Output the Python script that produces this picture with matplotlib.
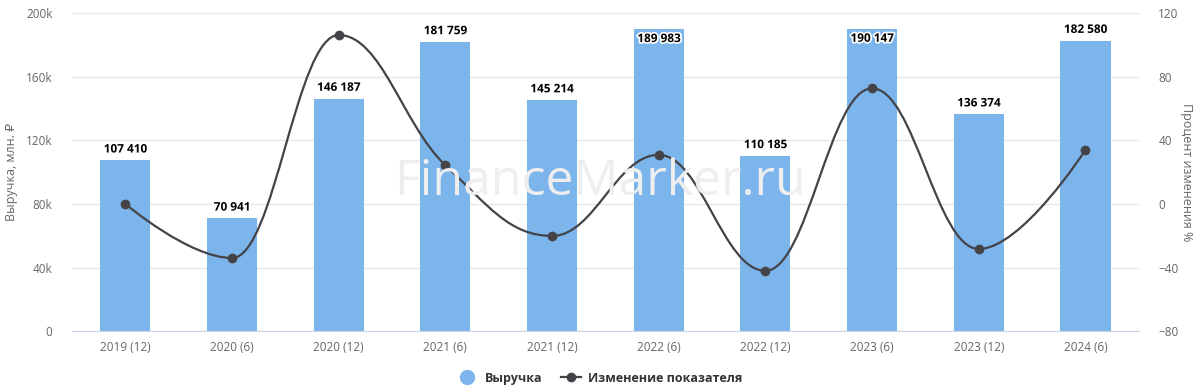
import numpy as np
import matplotlib.pyplot as plt
from matplotlib.lines import Line2D
from matplotlib.path import Path
from matplotlib.patches import PathPatch
import matplotlib.patheffects as pe

plt.rcParams['font.family'] = ['Open Sans', 'DejaVu Sans']

periods = ["2019 (12)", "2020 (6)", "2020 (12)", "2021 (6)", "2021 (12)",
           "2022 (6)", "2022 (12)", "2023 (6)", "2023 (12)", "2024 (6)"]
revenue = [107410, 70941, 146187, 181759, 145214, 189983, 110185, 190147, 136374, 182580]
change_pct = [0, -34.0, 106.1, 24.3, -20.1, 30.8, -42.0, 72.6, -28.3, 33.9]

left_ticks = [0, 40000, 80000, 120000, 160000, 200000]
left_labels = ["0", "40k", "80k", "120k", "160k", "200k"]
right_ticks = [-80, -40, 0, 40, 80, 120]

bar_color = "#7cb5ec"
line_color = "#434348"
grid_color = "#e6e6e6"
tick_color = "#666666"


def fmt(v):
    return f"{v:,}".replace(",", " ")


def spline_path(xs, ys, smoothing=1.5):
    # Highcharts-style spline through points
    n = len(xs)
    verts = [(xs[0], ys[0])]
    codes = [Path.MOVETO]
    conts = []
    for i in range(n):
        if i == 0 or i == n - 1:
            conts.append(((xs[i], ys[i]), (xs[i], ys[i])))
            continue
        lx, ly = xs[i - 1], ys[i - 1]
        nx, ny = xs[i + 1], ys[i + 1]
        px, py = xs[i], ys[i]
        d = smoothing + 1
        lcx = (smoothing * px + lx) / d
        lcy = (smoothing * py + ly) / d
        rcx = (smoothing * px + nx) / d
        rcy = (smoothing * py + ny) / d
        corr = (rcy - lcy) * (rcx - px) / (rcx - lcx) + py - rcy
        lcy += corr
        rcy += corr
        if lcy > ly and lcy > py:
            lcy = max(ly, py)
            rcy = 2 * py - lcy
        elif lcy < ly and lcy < py:
            lcy = min(ly, py)
            rcy = 2 * py - lcy
        if rcy > ny and rcy > py:
            rcy = max(ny, py)
            lcy = 2 * py - rcy
        elif rcy < ny and rcy < py:
            rcy = min(ny, py)
            lcy = 2 * py - rcy
        conts.append(((lcx, lcy), (rcx, rcy)))
    for i in range(1, n):
        verts += [conts[i - 1][1], conts[i][0], (xs[i], ys[i])]
        codes += [Path.CURVE4] * 3
    return Path(verts, codes)


fig = plt.figure(figsize=(12, 3.92), dpi=100)
ax = fig.add_axes([0.06, 0.155, 0.889, 0.812])
ax2 = ax.twinx()

x = np.arange(len(periods))
ax.bar(x, revenue, width=0.47, color=bar_color, zorder=2)
ax.set_xlim(-0.5, len(periods) - 0.5)
ax.set_ylim(0, 200000)
ax.set_yticks(left_ticks)
ax.set_yticklabels(left_labels)
ax.set_xticks(x)
ax.set_xticklabels(periods)
ax.grid(axis="y", color=grid_color, linewidth=1, zorder=0)
ax.set_axisbelow(True)
for s in ax.spines.values():
    s.set_visible(False)
for s in ax2.spines.values():
    s.set_visible(False)
ax.spines["bottom"].set_visible(True)
ax.spines["bottom"].set_color("#ccd6eb")
ax.tick_params(axis="both", length=0, colors=tick_color, labelsize=8.5)
ax.tick_params(axis="y", pad=14)
ax.tick_params(axis="x", pad=7)
ax.set_ylabel("Выручка, млн. ₽", color=tick_color, fontsize=9, labelpad=6)

ax2.set_ylim(-80, 120)
ax2.set_yticks(right_ticks)
ax2.tick_params(axis="y", length=0, colors=tick_color, labelsize=8.5, pad=14)
ax2.set_ylabel("Процент изменения %", color=tick_color, fontsize=9,
               rotation=270, labelpad=10)

path = spline_path(list(x.astype(float)), change_pct)
ax2.add_patch(PathPatch(path, facecolor="none", edgecolor=line_color,
                        linewidth=1.6, zorder=3))
ax2.plot(x, change_pct, "o", color=line_color, markersize=6, zorder=4)

outline = [pe.withStroke(linewidth=2.5, foreground="white")]
for xi, v in zip(x, revenue):
    if v > 185000:
        ax.text(xi, v - 2000, fmt(v), ha="center", va="top", fontsize=8.5,
                fontweight="bold", color="black", path_effects=outline, zorder=5)
    else:
        ax.text(xi, v + 3000, fmt(v), ha="center", va="bottom", fontsize=8.5,
                fontweight="bold", color="black", path_effects=outline, zorder=5)

fig.text(0.5, 0.535, "FinanceMarker.ru", ha="center", va="center",
         fontsize=36, color="#eeeeee", zorder=0)

handles = [
    Line2D([], [], marker="o", linestyle="none", markersize=10,
           color=bar_color),
    Line2D([], [], marker="o", color=line_color, markersize=6, linewidth=1.6),
]
leg = fig.legend(handles, ["Выручка", "Изменение показателя"], loc="lower center",
                 bbox_to_anchor=(0.5, -0.01), ncol=2, frameon=False, fontsize=9,
                 handlelength=1.6, columnspacing=1.5, handletextpad=0.6)
for t in leg.get_texts():
    t.set_fontweight("bold")
    t.set_color("#333333")

fig.savefig("out.png", dpi=100)
